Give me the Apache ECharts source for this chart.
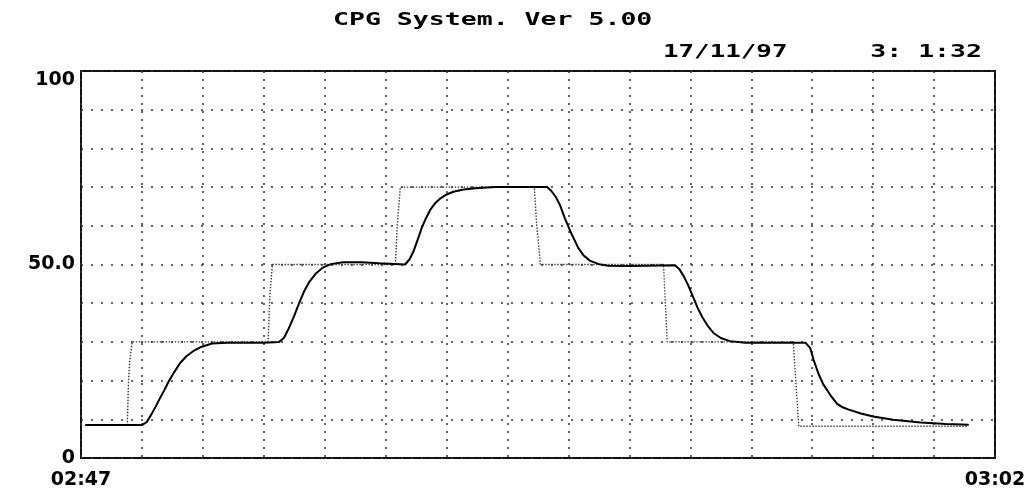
<!DOCTYPE html>
<html>
<head>
<meta charset="utf-8">
<script src="https://cdn.jsdelivr.net/npm/echarts@6/dist/echarts.min.js"></script>
<style>
html,body{margin:0;padding:0;background:#fff;}
#main{width:1032px;height:490px;}
</style>
</head>
<body>
<div id="main"></div>
<script>
// ---- data ----
const titleText = 'CPG System. Ver 5.00';
const dateText = '17/11/97';
const timeText = '3: 1:32';

// x axis: minutes after 02:47
const xLabelValues = [0, 15];
const xLabels = ['02:47', '03:02'];
const yLabelValues = [0, 50, 100];
const yLabels = ['0', '50.0', '100'];

// process value (solid line)
const pvTime = [0.07, 1.0, 1.08, 1.16, 1.23, 1.30, 1.37, 1.43, 1.53, 1.63, 1.73, 1.84, 1.97, 2.15, 2.4, 3.0, 3.25,
  3.33, 3.41, 3.5, 3.58, 3.66, 3.75, 3.85, 3.97, 4.1, 4.3, 4.6, 4.9, 5.32,
  5.39, 5.46, 5.53, 5.59, 5.66, 5.73, 5.81, 5.9, 6.0, 6.11, 6.28, 6.47, 6.8, 7.65,
  7.72, 7.79, 7.86, 7.94, 8.03, 8.1, 8.16, 8.25, 8.35, 8.5, 8.65, 9.0, 9.75,
  9.82, 9.89, 9.96, 10.04, 10.12, 10.2, 10.28, 10.38, 10.5, 10.65, 10.9, 11.5, 11.89,
  11.97, 12.02, 12.1, 12.18, 12.3, 12.41, 12.5, 12.6, 12.8, 13.0, 13.33, 13.78, 14.2, 14.57];
const pvValue = [8.5, 8.5, 9.3, 11.4, 13.4, 15.6, 17.6, 19.5, 22.2, 24.6, 26.3, 27.6, 28.7, 29.6, 29.8, 29.8, 30.0,
  31.0, 33.5, 36.8, 40.0, 43.0, 45.6, 47.6, 49.2, 50.1, 50.6, 50.6, 50.3, 50.0,
  51.3, 53.5, 56.6, 59.4, 61.9, 64.1, 65.8, 67.1, 68.1, 68.8, 69.4, 69.7, 70.0, 70.0,
  69.0, 67.5, 65.4, 62.0, 58.6, 56.3, 54.3, 52.3, 51.0, 50.1, 49.7, 49.6, 49.8,
  48.8, 47.0, 44.8, 41.8, 38.8, 36.3, 34.3, 32.3, 31.0, 30.2, 29.8, 29.8, 29.8,
  28.3, 25.5, 21.9, 19.1, 16.2, 14.0, 13.1, 12.5, 11.5, 10.7, 9.9, 9.2, 8.8, 8.6];

// set point (dotted line)
const spTime = [0.07, 0.76, 0.78, 0.80, 0.84, 3.07, 3.10, 3.14, 5.16, 5.19, 5.24, 7.44, 7.48, 7.54, 9.56, 9.59, 9.62, 11.69, 11.73, 11.78, 14.55];
const spValue = [8.5, 8.5, 20, 25, 30, 30, 42, 50, 50, 60, 70, 70, 60, 50, 50, 40, 30, 30, 20, 8.2, 8.2];

// ---- chart ----
const pvData = pvTime.map((t, i) => [t, pvValue[i]]);
const spData = spTime.map((t, i) => [t, spValue[i]]);
const monoFont = 'bold 17px "DejaVu Sans Mono"';

const chart = echarts.init(document.getElementById('main'), null, {renderer: 'canvas'});
chart.setOption({
  animation: false,
  backgroundColor: '#ffffff',
  grid: {left: 81, right: 37, top: 71, bottom: 27, show: true, borderColor: '#111', borderWidth: 2, backgroundColor: 'transparent'},
  xAxis: {
    type: 'value', min: 0, max: 15, interval: 1,
    axisLine: {show: false}, axisTick: {show: false},
    axisLabel: {
      show: true, margin: 13, color: '#000',
      fontFamily: 'DejaVu Sans', fontWeight: 'bold', fontSize: 19,
      formatter: v => { const i = xLabelValues.indexOf(v); return i >= 0 ? xLabels[i] : ''; }
    },
    splitLine: {show: true, lineStyle: {color: '#333', width: 1.5, type: [2, 6]}}
  },
  yAxis: {
    type: 'value', min: 0, max: 100, interval: 10,
    axisLine: {show: false}, axisTick: {show: false},
    axisLabel: {
      show: true, margin: 6, color: '#000',
      fontFamily: 'DejaVu Sans', fontWeight: 'bold', fontSize: 19,
      verticalAlignMaxLabel: 'top',
      formatter: v => { const i = yLabelValues.indexOf(v); return i >= 0 ? yLabels[i] : ''; }
    },
    splitLine: {show: true, lineStyle: {color: '#333', width: 1.5, type: [2, 8]}}
  },
  series: [
    {
      name: 'SP', type: 'line', data: spData, showSymbol: false, z: 2,
      lineStyle: {color: '#333', width: 1.4, type: [1.4, 1.6]}
    },
    {
      name: 'PV', type: 'line', data: pvData, showSymbol: false, z: 3,
      lineStyle: {color: '#000', width: 2}
    }
  ],
  graphic: [
    {type: 'text', x: 333, y: 21, scaleX: 1.56, style: {text: titleText, font: monoFont, fill: '#000', align: 'left', verticalAlign: 'middle'}},
    {type: 'text', x: 663, y: 53, scaleX: 1.52, style: {text: dateText, font: monoFont, fill: '#000', align: 'left', verticalAlign: 'middle'}},
    {type: 'text', x: 982, y: 53, scaleX: 1.56, style: {text: timeText, font: monoFont, fill: '#000', align: 'right', verticalAlign: 'middle'}}
  ]
});
</script>
</body>
</html>
